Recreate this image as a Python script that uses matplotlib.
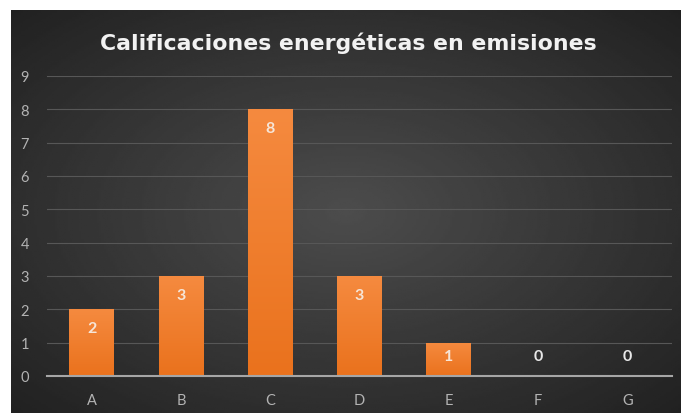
import matplotlib
matplotlib.use("Agg")
import matplotlib.pyplot as plt
import numpy as np
from matplotlib.colors import LinearSegmentedColormap

# Datos
categorias = ["A", "B", "C", "D", "E", "F", "G"]
valores = [2, 3, 8, 3, 1, 0, 0]
ticks_y = list(range(0, 10))

W, H = 681, 414
fig = plt.figure(figsize=(W / 100, H / 100), dpi=100)
fig.patch.set_facecolor("white")

# Fondo con degradado radial (gris oscuro)
bg = fig.add_axes([11 / W, 0, (W - 11) / W, (H - 11) / H], zorder=0)
yy, xx = np.mgrid[-1:1:200j, -1:1:300j]
r = np.sqrt(xx ** 2 + yy ** 2) / np.sqrt(2)
bg.imshow(0.30 - 0.17 * r, cmap="gray", vmin=0, vmax=1, aspect="auto",
          extent=[0, 1, 0, 1])
bg.set_axis_off()

# Título
fig.text(348 / W, 1 - 43 / H, "Calificaciones energéticas en emisiones",
         ha="center", va="center", color="#f2f2f2", fontsize=15.8,
         fontweight="bold", family="DejaVu Sans")

ax = fig.add_axes([47 / W, (H - 377) / H, 625 / W, 300 / H], zorder=1)
ax.patch.set_alpha(0)
x = np.arange(len(categorias))
barras = ax.bar(x, valores, width=0.5, color="#f07f2f", zorder=2)

# Degradado dentro de las barras
grad = np.linspace(0, 1, 100).reshape(-1, 1)
cmap_bar = LinearSegmentedColormap.from_list("nar", ["#ea721d", "#f58a3f"])
for b in barras:
    if b.get_height() <= 0:
        continue
    im = ax.imshow(grad, cmap=cmap_bar, aspect="auto", origin="lower",
                   extent=[b.get_x(), b.get_x() + b.get_width(), 0, b.get_height()],
                   zorder=2.5)
    im.set_clip_path(b)

# Etiquetas de datos (desplazamiento en puntos: 1 pt = 1.39 px a 100 dpi)
for xi, v in zip(x, valores):
    if v > 1:
        dy, col = -13.7, "#f6e6d8"
    elif v == 1:
        dy, col = -9.5, "#f6e6d8"
    else:
        dy, col = 14.4, "#e8e8e8"
    ax.annotate(str(v), (xi, v), xytext=(0, dy), textcoords="offset points",
                ha="center", va="center", color=col, fontsize=11.5,
                fontweight="bold", family="Lato", zorder=3)

ax.set_xlim(-0.5, len(categorias) - 0.5)
ax.set_ylim(0, 9)
ax.set_yticks(ticks_y)
ax.set_xticks(x)
ax.set_xticklabels(categorias)
ax.grid(axis="y", color="#575757", linewidth=0.8, zorder=0)
ax.set_axisbelow(True)
for s in ["top", "right", "left"]:
    ax.spines[s].set_visible(False)
ax.spines["bottom"].set_color("#a6a6a6")
ax.spines["bottom"].set_linewidth(1.5)
ax.spines["bottom"].set_zorder(4)
ax.tick_params(length=0, colors="#b3b3b3", labelsize=10.5)
ax.tick_params(axis="y", pad=13)
ax.tick_params(axis="x", pad=12)
for lab in ax.get_xticklabels() + ax.get_yticklabels():
    lab.set_family("Lato")

fig.savefig("out.png", dpi=100)
